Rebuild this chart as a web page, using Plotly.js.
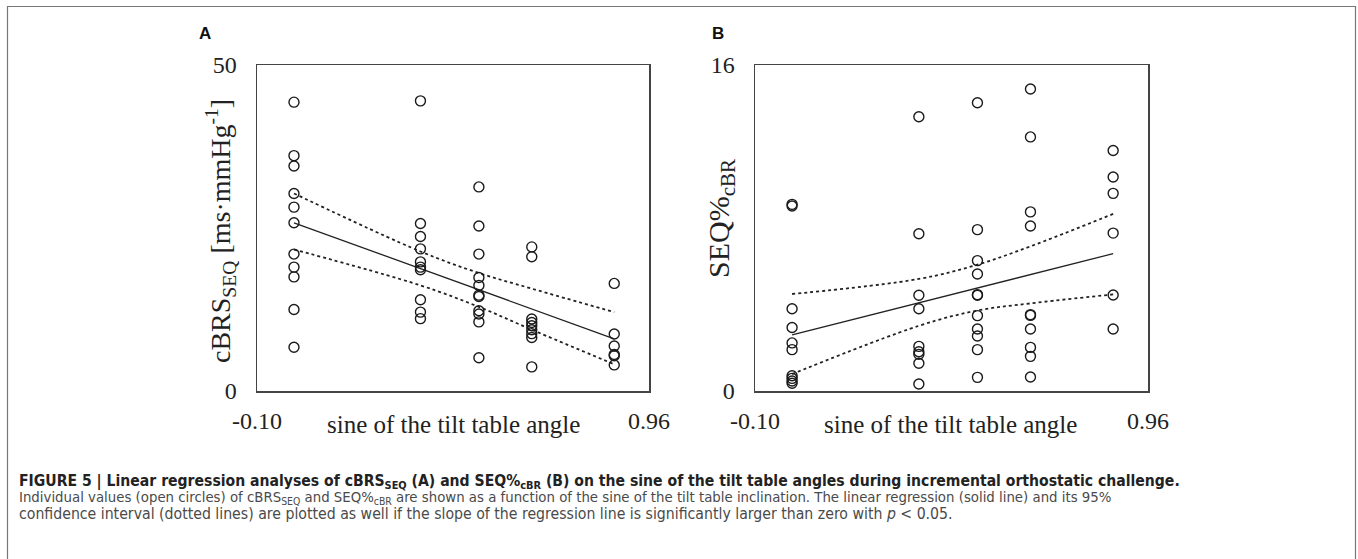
<!DOCTYPE html>
<html>
<head>
<meta charset="utf-8">
<script src="https://cdn.plot.ly/plotly-3.0.1.min.js"></script>
<style>html,body{margin:0;padding:0;background:#fff;}#chart{width:1358px;height:559px;}</style>
</head>
<body>
<div id="chart"></div>
<script>
// ---- Panel A: cBRS_SEQ vs sine of tilt angle ----
const angleSines = [0, 0.342, 0.5, 0.643, 0.866];
const cbrsAt0   = [44.3, 36.1, 34.5, 30.3, 28.2, 25.8, 21.0, 19.0, 17.5, 12.5, 6.7];
const cbrsAt342 = [44.5, 25.7, 23.7, 21.8, 19.8, 19.0, 18.6, 14.0, 12.1, 11.1];
const cbrsAt500 = [31.3, 25.3, 21.0, 17.4, 16.2, 14.7, 14.5, 12.3, 11.8, 10.6, 5.1];
const cbrsAt643 = [22.1, 20.6, 11.05, 10.5, 10.0, 9.4, 8.8, 8.2, 3.7];
const cbrsAt866 = [16.5, 8.75, 6.9, 5.6, 5.4, 4.0];
const cbrsFitX  = [0, 0.866];
const cbrsFitY  = [25.8, 8.0];
const cbrsUpper = [30.3, 21.4, 18.1, 15.7, 12.1];
const cbrsLower = [21.7, 16.2, 12.9, 9.4, 4.1];

// ---- Panel B: SEQ%_cBR vs sine of tilt angle ----
const seqAt0   = [9.16, 9.08, 4.04, 3.12, 2.36, 2.03, 0.75, 0.62, 0.49, 0.38];
const seqAt342 = [13.46, 7.72, 4.70, 4.04, 2.19, 1.93, 1.80, 1.36, 0.34];
const seqAt500 = [14.15, 7.92, 6.40, 5.74, 4.73, 4.70, 3.70, 3.04, 2.70, 2.03, 0.67];
const seqAt643 = [14.82, 12.47, 8.79, 8.10, 3.75, 3.71, 3.04, 2.14, 1.70, 0.69];
const seqAt866 = [11.80, 10.50, 9.70, 7.75, 4.71, 3.04];
const seqFitX  = [0, 0.866];
const seqFitY  = [2.75, 6.74];
const seqUpper = [4.76, 5.5, 6.2, 7.1, 8.69];
const seqLower = [0.83, 3.2, 3.95, 4.3, 4.74];

const xTickVals = [-0.10, 0.96];
const xTickText = ['-0.10', '0.96'];
const yTickA = [0, 50];
const yTickB = [0, 16];

function scatterGroup(groups, xa, ya) {
  const xs = [], ys = [];
  groups.forEach((g, i) => g.forEach(v => { xs.push(angleSines[i]); ys.push(v); }));
  return {x: xs, y: ys, xaxis: xa, yaxis: ya, type: 'scatter', mode: 'markers',
    marker: {symbol: 'circle-open', size: 10, color: '#1a1a1a', line: {width: 1.4, color: '#1a1a1a'}},
    hoverinfo: 'x+y', showlegend: false};
}
function lineTrace(x, y, xa, ya, dash) {
  return {x: x, y: y, xaxis: xa, yaxis: ya, type: 'scatter', mode: 'lines',
    line: {color: '#222', width: dash ? 1.8 : 1.3, dash: dash || 'solid', shape: dash ? 'spline' : 'linear'},
    hoverinfo: 'skip', showlegend: false};
}

const data = [
  lineTrace(cbrsFitX, cbrsFitY, 'x', 'y'),
  lineTrace(angleSines, cbrsUpper, 'x', 'y', 'dot'),
  lineTrace(angleSines, cbrsLower, 'x', 'y', 'dot'),
  scatterGroup([cbrsAt0, cbrsAt342, cbrsAt500, cbrsAt643, cbrsAt866], 'x', 'y'),
  lineTrace(seqFitX, seqFitY, 'x2', 'y2'),
  lineTrace(angleSines, seqUpper, 'x2', 'y2', 'dot'),
  lineTrace(angleSines, seqLower, 'x2', 'y2', 'dot'),
  scatterGroup([seqAt0, seqAt342, seqAt500, seqAt643, seqAt866], 'x2', 'y2')
];

const W = 1358, H = 559;
const px = v => v / W, py = v => 1 - v / H;
const serif = 'Liberation Serif, Times New Roman, serif';
const tickFont = {family: serif, size: 24, color: '#222'};
const axLine = {showline: true, mirror: true, linecolor: '#444', linewidth: 1.5,
  showgrid: false, zeroline: false, ticks: '', tickfont: tickFont};

const capFont = 'DejaVu Sans Condensed, Liberation Sans Narrow, sans-serif';

const layout = {
  width: W, height: H,
  margin: {l: 0, r: 0, t: 0, b: 0},
  paper_bgcolor: '#fff', plot_bgcolor: '#fff',
  showlegend: false,
  xaxis: Object.assign({domain: [px(257), px(649)], range: [-0.10, 0.96], tickvals: xTickVals, ticktext: xTickText, ticklabelstandoff: 8, anchor: 'y'}, axLine),
  yaxis: Object.assign({domain: [py(391), py(65)], range: [0, 50], tickvals: yTickA, ticklabelstandoff: 14, anchor: 'x'}, axLine),
  xaxis2: Object.assign({domain: [px(755), px(1148)], range: [-0.10, 0.96], tickvals: xTickVals, ticktext: xTickText, ticklabelstandoff: 8, anchor: 'y2'}, axLine),
  yaxis2: Object.assign({domain: [py(391), py(65)], range: [0, 16], tickvals: yTickB, ticklabelstandoff: 14, anchor: 'x2'}, axLine),
  shapes: [
    {type: 'rect', xref: 'paper', yref: 'paper', x0: px(7.5), x1: px(1355.5), y0: -0.05, y1: py(6.5),
     line: {color: '#777', width: 1.2}, fillcolor: 'rgba(0,0,0,0)'}
  ],
  annotations: [
    {text: '<b>A</b>', xref: 'paper', yref: 'paper', x: px(197), y: py(33), xanchor: 'left', yanchor: 'middle', showarrow: false,
     font: {family: 'Liberation Sans, Arial, sans-serif', size: 17, color: '#111'}},
    {text: '<b>B</b>', xref: 'paper', yref: 'paper', x: px(710), y: py(33), xanchor: 'left', yanchor: 'middle', showarrow: false,
     font: {family: 'Liberation Sans, Arial, sans-serif', size: 17, color: '#111'}},
    {text: 'sine of the tilt table angle', xref: 'paper', yref: 'paper', x: px(453), y: py(424), xanchor: 'center', yanchor: 'middle', showarrow: false,
     font: {family: serif, size: 25, color: '#222'}},
    {text: 'sine of the tilt table angle', xref: 'paper', yref: 'paper', x: px(951), y: py(424), xanchor: 'center', yanchor: 'middle', showarrow: false,
     font: {family: serif, size: 25, color: '#222'}},
    {text: 'cBRS<sub>SEQ</sub> [ms·mmHg<sup>-1</sup>]', textangle: -90, xref: 'paper', yref: 'paper', x: px(221), y: py(231), xanchor: 'center', yanchor: 'middle', showarrow: false,
     font: {family: serif, size: 28, color: '#222'}},
    {text: 'SEQ%<sub>cBR</sub>', textangle: -90, xref: 'paper', yref: 'paper', x: px(721), y: py(219), xanchor: 'center', yanchor: 'middle', showarrow: false,
     font: {family: serif, size: 30, color: '#222'}},
    {text: '<b>FIGURE 5 | Linear regression analyses of cBRS<sub>SEQ</sub> (A) and SEQ%<sub>cBR</sub> (B) on the sine of the tilt table angles during incremental orthostatic challenge.</b>',
     xref: 'paper', yref: 'paper', x: px(17), y: py(482), xanchor: 'left', yanchor: 'middle', showarrow: false,
     font: {family: capFont, size: 15.6, color: '#222'}},
    {text: 'Individual values (open circles) of cBRS<sub>SEQ</sub> and SEQ%<sub>cBR</sub> are shown as a function of the sine of the tilt table inclination. The linear regression (solid line) and its 95%',
     xref: 'paper', yref: 'paper', x: px(17), y: py(497.5), xanchor: 'left', yanchor: 'middle', showarrow: false,
     font: {family: capFont, size: 14.8, color: '#4a4a4a'}},
    {text: 'confidence interval (dotted lines) are plotted as well if the slope of the regression line is significantly larger than zero with <i>p</i> < 0.05.',
     xref: 'paper', yref: 'paper', x: px(17), y: py(513), xanchor: 'left', yanchor: 'middle', showarrow: false,
     font: {family: capFont, size: 15.7, color: '#4a4a4a'}}
  ]
};

Plotly.newPlot('chart', data, layout, {displayModeBar: false, staticPlot: true});
</script>
</body>
</html>
